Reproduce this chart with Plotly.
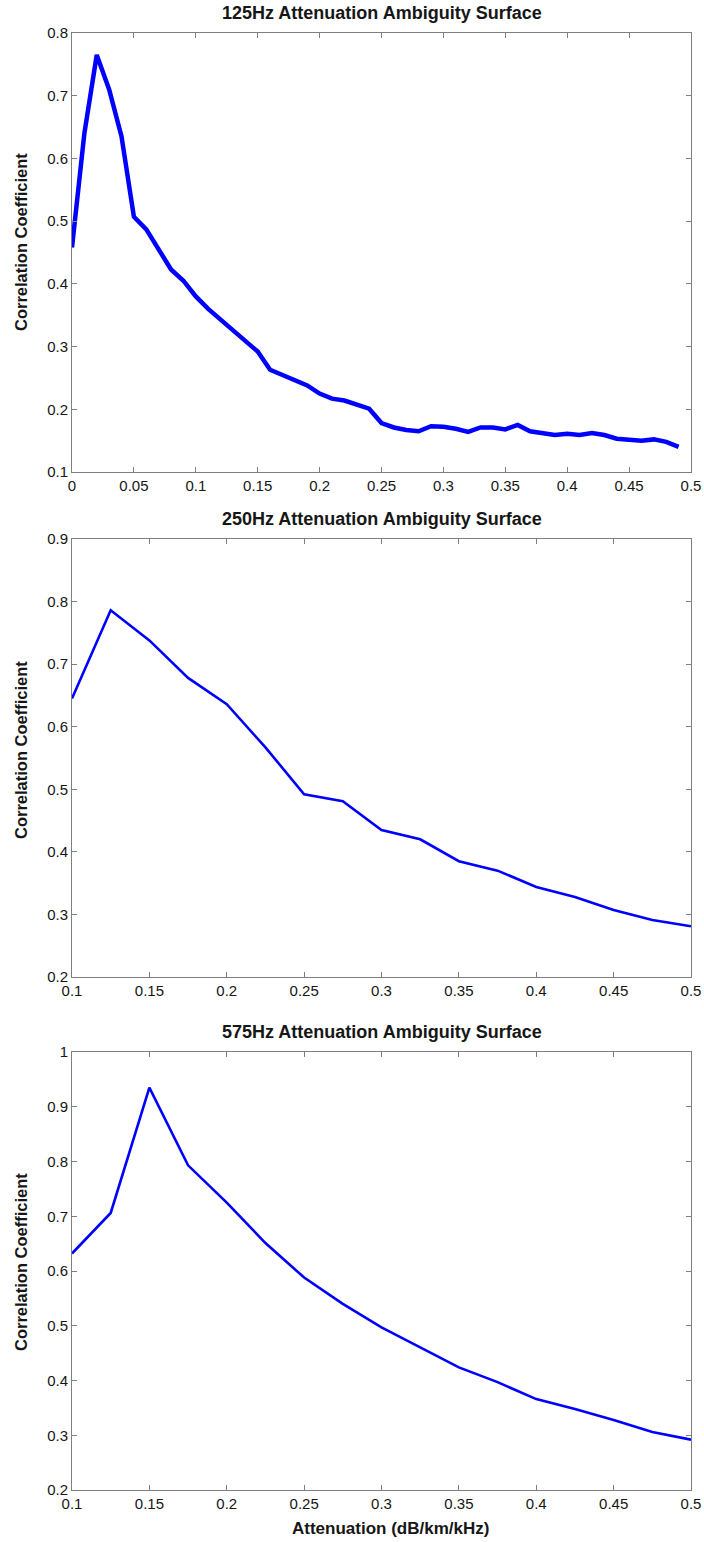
import plotly.graph_objects as go

# ---- data ----
x_125 = [round(i * 0.01, 2) for i in range(50)]
y_125 = [0.458, 0.640, 0.765, 0.710, 0.635, 0.507, 0.487, 0.455, 0.423, 0.405,
         0.380, 0.360, 0.343, 0.327, 0.310, 0.292, 0.263, 0.255, 0.247, 0.238,
         0.225, 0.217, 0.214, 0.208, 0.201, 0.178, 0.171, 0.167, 0.165, 0.173,
         0.172, 0.169, 0.164, 0.171, 0.171, 0.168, 0.175, 0.165, 0.162, 0.159,
         0.161, 0.159, 0.162, 0.159, 0.153, 0.151, 0.150, 0.152, 0.148, 0.140]

x_250 = [0.1, 0.125, 0.15, 0.175, 0.2, 0.225, 0.25, 0.275, 0.3, 0.325, 0.35,
         0.375, 0.4, 0.425, 0.45, 0.475, 0.5]
y_250 = [0.645, 0.786, 0.738, 0.678, 0.636, 0.567, 0.492, 0.481, 0.435, 0.420,
         0.385, 0.370, 0.344, 0.328, 0.307, 0.291, 0.281]

x_575 = [0.1, 0.125, 0.15, 0.175, 0.2, 0.225, 0.25, 0.275, 0.3, 0.325, 0.35,
         0.375, 0.4, 0.425, 0.45, 0.475, 0.5]
y_575 = [0.632, 0.706, 0.935, 0.793, 0.725, 0.651, 0.588, 0.540, 0.497, 0.460,
         0.424, 0.397, 0.366, 0.348, 0.328, 0.306, 0.292]

titles = ["125Hz Attenuation Ambiguity Surface",
          "250Hz Attenuation Ambiguity Surface",
          "575Hz Attenuation Ambiguity Surface"]
y_label = "Correlation Coefficient"
x_label = "Attenuation (dB/km/kHz)"

W, H = 704, 1542
FONT = "Liberation Sans, Arial, sans-serif"
BLUE = "#0000ff"
TXT = "#161616"

def py(px):  # pixel from top -> paper fraction
    return 1 - px / H

xdom = [72 / W, 691 / W]
panels = [
    dict(x=x_125, y=y_125, xr=[0, 0.5], xd=0.05, yr=[0.1, 0.8], top=33, bot=472, lw=4.5, yl=242),
    dict(x=x_250, y=y_250, xr=[0.1, 0.5], xd=0.05, yr=[0.2, 0.9], top=539, bot=977, lw=2.6, yl=750),
    dict(x=x_575, y=y_575, xr=[0.1, 0.5], xd=0.05, yr=[0.2, 1.0], top=1052, bot=1490, lw=2.6, yl=1262),
]

fig = go.Figure()
layout = dict(
    width=W, height=H,
    margin=dict(l=0, r=0, t=0, b=0),
    paper_bgcolor="white", plot_bgcolor="white",
    showlegend=False,
    font=dict(family=FONT, color=TXT),
)
annotations = []
axis_common = dict(
    automargin=False,
    showline=True, linecolor="#7f7f7f", linewidth=1, mirror="ticks",
    ticks="inside", ticklen=5, tickcolor="#7f7f7f", tickwidth=1,
    showgrid=False, zeroline=False,
    tickfont=dict(family=FONT, size=15, color=TXT),
)

for i, p in enumerate(panels, start=1):
    sfx = "" if i == 1 else str(i)
    fig.add_trace(go.Scatter(
        x=p["x"], y=p["y"], mode="lines",
        line=dict(color=BLUE, width=p["lw"]),
        xaxis="x" + sfx, yaxis="y" + sfx,
    ))
    layout["xaxis" + sfx] = dict(
        domain=xdom, range=p["xr"], dtick=p["xd"], tick0=0, anchor="y" + sfx,
        **axis_common)
    layout["yaxis" + sfx] = dict(
        domain=[py(p["bot"]), py(p["top"])], range=p["yr"], dtick=0.1, tick0=0,
        anchor="x" + sfx, **axis_common)
    # title
    annotations.append(dict(
        text="<b>" + titles[i - 1] + "</b>", xref="paper", yref="paper",
        x=(xdom[0] + xdom[1]) / 2, y=py(p["top"] - 20), xanchor="center", yanchor="middle",
        showarrow=False, font=dict(family=FONT, size=18, color=TXT)))
    # y label
    annotations.append(dict(
        text="<b>" + y_label + "</b>", xref="paper", yref="paper",
        x=21 / W, y=py(p["yl"]), xanchor="center", yanchor="middle",
        textangle=-90, showarrow=False, font=dict(family=FONT, size=16.5, color=TXT)))

annotations.append(dict(
    text="<b>" + x_label + "</b>", xref="paper", yref="paper",
    x=390 / W, y=py(1528), xanchor="center", yanchor="middle",
    showarrow=False, font=dict(family=FONT, size=17, color=TXT)))

layout["annotations"] = annotations
fig.update_layout(**layout)
fig.write_html("out.html")
